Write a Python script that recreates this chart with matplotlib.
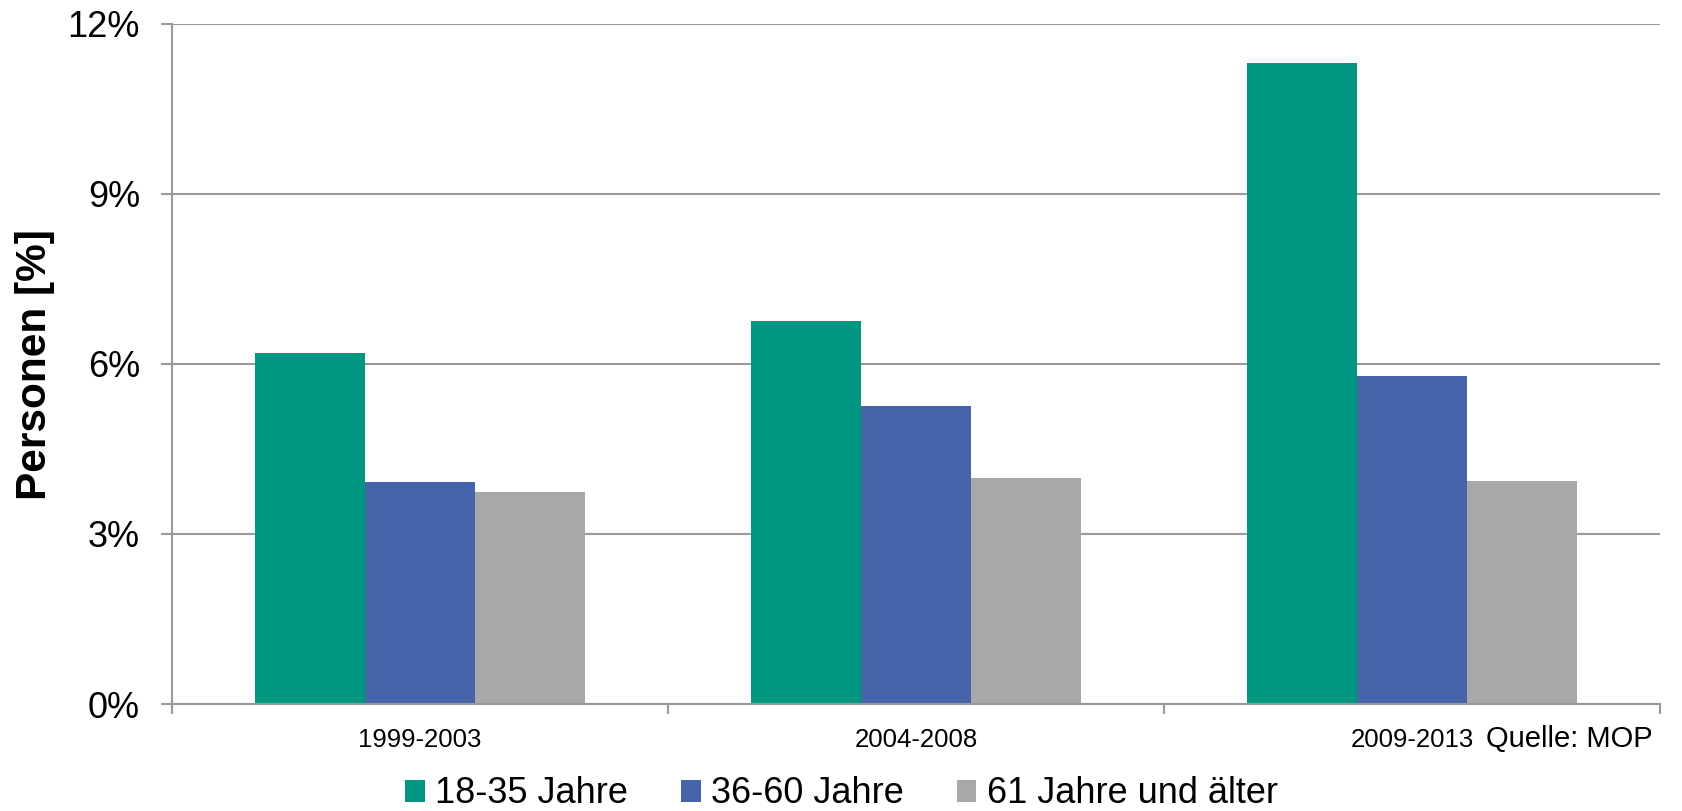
import numpy as np
import matplotlib.pyplot as plt

plt.rcParams["font.family"] = ["Liberation Sans", "DejaVu Sans"]

periods = ["1999-2003", "2004-2008", "2009-2013"]
groups = ["18-35 Jahre", "36-60 Jahre", "61 Jahre und älter"]
young = [6.19, 6.76, 11.31]
middle = [3.91, 5.25, 5.79]
old = [3.74, 3.99, 3.94]
colors = ["#009682", "#4664AA", "#A8A8A8"]
yticks = [0, 3, 6, 9, 12]

fig = plt.figure(figsize=(16.83, 8.11), dpi=100)
ax = fig.add_axes([0.1022, 0.1319, 0.8841, 0.839])

x = np.arange(len(periods))
w = 2 / 9
for i, vals in enumerate([young, middle, old]):
    ax.bar(x + (i - 1) * w, vals, width=w, color=colors[i], label=groups[i], zorder=2)

ax.set_xlim(-0.5, 2.5)
ax.set_ylim(0, 12)
ax.set_yticks(yticks)
ax.set_yticklabels([f"{t}%" for t in yticks], fontsize=26)
ax.yaxis.grid(True, color="#999999", linewidth=1.5, zorder=0)
ax.set_axisbelow(True)

ax.set_xticks(x)
ax.set_xticklabels(periods, fontsize=18.5)
ax.set_xticks([-0.5, 0.5, 1.5, 2.5], minor=True)
ax.tick_params(axis="x", which="major", length=0, pad=17)
ax.tick_params(axis="x", which="minor", length=7, width=1.5, color="#999999", direction="out")
ax.tick_params(axis="y", length=8, width=1.5, color="#999999", pad=15)

for s in ["top", "right"]:
    ax.spines[s].set_visible(False)
for s in ["left", "bottom"]:
    ax.spines[s].set_color("#999999")
    ax.spines[s].set_linewidth(1.5)
    ax.spines[s].set_zorder(3)

fig.text(0.0208, 0.551, "Personen [%]", rotation=90, ha="center", va="center",
         fontsize=30.5, fontweight="bold")
fig.text(0.982, 0.089, "Quelle: MOP", ha="right", va="center", fontsize=21)

fig.legend(loc="center", bbox_to_anchor=(0.5, 0.021), ncol=3, frameon=False,
           fontsize=26, handlelength=0.55, handleheight=0.55, handletextpad=0.3,
           columnspacing=1.45)

fig.savefig("out.png", dpi=100)
